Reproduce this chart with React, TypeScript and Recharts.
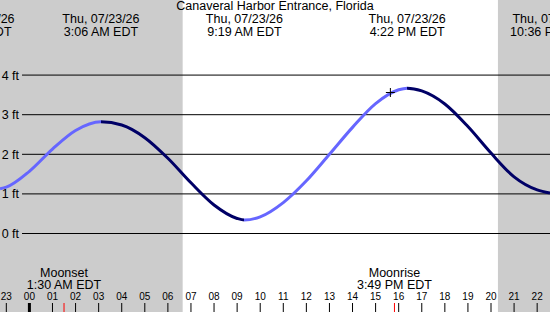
import {
  Line,
  LineChart,
  ReferenceArea,
  ReferenceDot,
  ReferenceLine,
  XAxis,
  YAxis,
} from "recharts";

const W = 550;
const H = 312;
const FONT = "'Liberation Sans', Arial, sans-serif";
const LIGHT = "#6666ff";
const DARK = "#000066";
const NIGHT = "#cccccc";

// tide height readings (hours from midnight 07/23, feet)
const hours = [
  -1.274, -1, 0, 1, 2, 3.1, 4, 5, 6, 7, 8, 9, 9.317, 10, 11, 12, 13, 14, 15, 16,
  16.367, 17, 18, 19, 20, 21, 22, 22.556,
];
const heights = [
  1.13, 1.17, 1.57, 2.13, 2.6, 2.82, 2.74, 2.42, 1.9, 1.28, 0.72, 0.38, 0.34,
  0.42, 0.78, 1.33, 2.0, 2.68, 3.28, 3.63, 3.67, 3.6, 3.27, 2.7, 2.03, 1.43,
  1.1, 1.02,
];

// high / low tide labels along the top
const tideTimes = [-2.4, 3.1, 9.317, 16.367, 22.6];
const tideDates = [
  "Wed, 07/22/26",
  "Thu, 07/23/26",
  "Thu, 07/23/26",
  "Thu, 07/23/26",
  "Thu, 07/23/26",
];
const tideClock = [
  "9:36 PM EDT",
  "3:06 AM EDT",
  "9:19 AM EDT",
  "4:22 PM EDT",
  "10:36 PM EDT",
];

const moonTimes = [1.5, 15.817];
const moonNames = ["Moonset", "Moonrise"];
const moonClock = ["1:30 AM EDT", "3:49 PM EDT"];

const sunrise = 6.64;
const sunset = 20.3;

const ftLevels = [0, 1, 2, 3, 4];
const hourTicks = [
  -1, 0, 1, 2, 3, 4, 5, 6, 7, 8, 9, 10, 11, 12, 13, 14, 15, 16, 17, 18, 19, 20,
  21, 22,
];

const nowT = 15.64;
const nowFt = 3.56;

const xDomain: [number, number] = [-1.274, 22.556];
const yDomain: [number, number] = [-1.982, 5.896];
const gridStart = -0.32;

const data = hours.map((t, i) => ({ t, ft: heights[i] }));

// rising parts light, falling parts dark
const span = hours[hours.length - 1] - hours[0];
const stops: { offset: number; color: string }[] = [];
for (let i = 0; i < hours.length - 1; i++) {
  const color = heights[i + 1] > heights[i] ? LIGHT : DARK;
  stops.push({ offset: (hours[i] - hours[0]) / span, color });
  stops.push({ offset: (hours[i + 1] - hours[0]) / span, color });
}

function HourTick(props: any) {
  const { x, y, payload } = props;
  const v = payload.value;
  if (moonTimes.includes(v)) {
    return <line x1={x} x2={x} y1={y - 9} y2={y} stroke="#ff0000" />;
  }
  const hh = ((Math.round(v) % 24) + 24) % 24;
  return (
    <g>
      <text
        x={x}
        y={y - 12}
        textAnchor="middle"
        fontSize={10}
        fontFamily={FONT}
        fill="#000"
      >
        {String(hh).padStart(2, "0")}
      </text>
      <line
        x1={x}
        x2={x}
        y1={y - 9}
        y2={y}
        stroke="#000"
        strokeWidth={v === 0 ? 3 : 1}
      />
    </g>
  );
}

function TwoLines(props: any) {
  const { viewBox, top, bottom, y1, y2 } = props;
  const x = viewBox.x;
  return (
    <g fontFamily={FONT} fontSize={12.5} fill="#000" textAnchor="middle">
      <text x={x} y={y1}>
        {top}
      </text>
      <text x={x} y={y2}>
        {bottom}
      </text>
    </g>
  );
}

function Cross(props: any) {
  const { cx, cy } = props;
  return (
    <path
      d={`M${cx - 4.5},${cy}h9M${cx},${cy - 4.5}v9`}
      stroke="#000"
      strokeWidth={1}
    />
  );
}

export default function App() {
  return (
    <div style={{ position: "relative", width: W, height: H }}>
      <style>{`body{margin:0}`}</style>
      <LineChart
        width={W}
        height={H}
        data={data}
        margin={{ top: 0, right: 0, bottom: 0, left: 0 }}
        style={{ background: "#fff" }}
      >
        <defs>
          <linearGradient id="tideStroke" x1="0" y1="0" x2="1" y2="0">
            {stops.map((s, i) => (
              <stop key={i} offset={s.offset} stopColor={s.color} />
            ))}
          </linearGradient>
        </defs>
        <XAxis
          dataKey="t"
          type="number"
          domain={xDomain}
          allowDataOverflow
          ticks={[...hourTicks, ...moonTimes]}
          interval={0}
          height={20}
          mirror
          axisLine={false}
          tickLine={false}
          tickSize={0}
          tickMargin={0}
          tick={<HourTick />}
        />
        <YAxis type="number" domain={yDomain} allowDataOverflow hide />
        <ReferenceArea
          x1={xDomain[0]}
          x2={sunrise}
          fill={NIGHT}
          fillOpacity={1}
          stroke="none"
        />
        <ReferenceArea
          x1={sunset}
          x2={xDomain[1]}
          fill={NIGHT}
          fillOpacity={1}
          stroke="none"
        />
        {ftLevels.map((v) => (
          <ReferenceLine
            key={v}
            segment={[
              { x: gridStart, y: v },
              { x: xDomain[1], y: v },
            ]}
            stroke="#000"
            strokeWidth={1}
            label={{
              value: `${v} ft`,
              position: "left",
              offset: 3,
              fill: "#000",
              fontSize: 12.5,
              fontFamily: FONT,
            }}
          />
        ))}
        {tideTimes.map((t, i) => (
          <ReferenceLine
            key={`tide-${i}`}
            x={t}
            stroke="none"
            ifOverflow="visible"
            label={
              <TwoLines top={tideDates[i]} bottom={tideClock[i]} y1={23} y2={36} />
            }
          />
        ))}
        {moonTimes.map((t, i) => (
          <ReferenceLine
            key={`moon-${i}`}
            x={t}
            stroke="none"
            label={
              <TwoLines top={moonNames[i]} bottom={moonClock[i]} y1={277} y2={289} />
            }
          />
        ))}
        <Line
          dataKey="ft"
          type="monotone"
          stroke="url(#tideStroke)"
          strokeWidth={3}
          dot={false}
          isAnimationActive={false}
        />
        <ReferenceDot x={nowT} y={nowFt} shape={<Cross />} />
      </LineChart>
      <div
        style={{
          position: "absolute",
          top: 0,
          left: 0,
          width: W,
          textAlign: "center",
          fontFamily: FONT,
          fontSize: 12.5,
          lineHeight: "13px",
          color: "#000",
        }}
      >
        Canaveral Harbor Entrance, Florida
      </div>
    </div>
  );
}
